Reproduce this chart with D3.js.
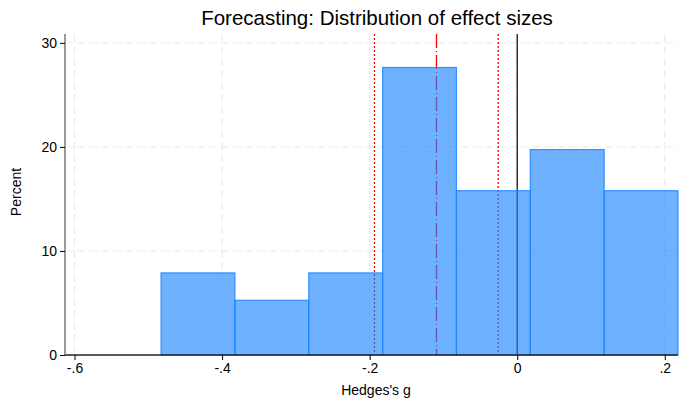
<!DOCTYPE html>
<html>
<head>
<meta charset="utf-8">
<script src="https://cdn.jsdelivr.net/npm/d3@7"></script>
<style>
body { margin: 0; background: #fff; }
text { font-family: "Liberation Sans", Arial, sans-serif; fill: #000; }
</style>
</head>
<body>
<script>
// histogram bins (Hedges's g), percent of studies
var binStart = -0.4827, binWidth = 0.10009;
var percents = [7.89, 5.26, 7.89, 27.63, 15.79, 19.74, 15.79];
// reference lines: lower CI, mean, upper CI, zero
var ciLines = [-0.1935, -0.0258];
var meanLine = [-0.1094];
var zeroLine = [0];
var xTicks = [-0.6, -0.4, -0.2, 0, 0.2];
var xTickLabels = ["-.6", "-.4", "-.2", "0", ".2"];
var yTicks = [0, 10, 20, 30];

var W = 679, H = 400;
var margin = {left: 65, right: 1, top: 34, bottom: 45};

var bins = percents.map(function(p, i){
	return {x0: binStart + i*binWidth, x1: binStart + (i+1)*binWidth, pct: p};
});

var x = d3.scaleLinear().domain([-0.6129, bins[bins.length-1].x1]).range([margin.left, W - margin.right]);
var y = d3.scaleLinear().domain([0, 30.85]).range([H - margin.bottom, margin.top]);

var svg = d3.select("body").append("svg").attr("width", W).attr("height", H);

// grid
svg.append("g").selectAll("line").data(yTicks.slice(1)).enter().append("line")
	.attr("x1", margin.left).attr("x2", W - margin.right)
	.attr("y1", function(d){ return y(d); }).attr("y2", function(d){ return y(d); })
	.attr("stroke", "#eaeaea").attr("stroke-dasharray", "8,4");
svg.append("g").selectAll("line").data(xTicks).enter().append("line")
	.attr("y1", margin.top).attr("y2", y(0))
	.attr("x1", function(d){ return x(d); }).attr("x2", function(d){ return x(d); })
	.attr("stroke", "#eaeaea").attr("stroke-dasharray", "8,4");

// reference lines (drawn under the translucent bars)
svg.append("g").selectAll("line").data(ciLines).enter().append("line")
	.attr("x1", function(d){ return x(d); }).attr("x2", function(d){ return x(d); })
	.attr("y1", margin.top).attr("y2", y(0))
	.attr("stroke", "#ff0000").attr("stroke-width", 1.3).attr("stroke-dasharray", "2,2");
svg.append("g").selectAll("line").data(meanLine).enter().append("line")
	.attr("x1", function(d){ return x(d); }).attr("x2", function(d){ return x(d); })
	.attr("y1", margin.top).attr("y2", y(0))
	.attr("stroke", "#ff0000").attr("stroke-width", 1.3).attr("stroke-dasharray", "14,3,1,3");
svg.append("g").selectAll("line").data(zeroLine).enter().append("line")
	.attr("x1", function(d){ return x(d); }).attr("x2", function(d){ return x(d); })
	.attr("y1", margin.top).attr("y2", y(0))
	.attr("stroke", "#000").attr("stroke-width", 1.2);

// bars
svg.append("g").selectAll("rect").data(bins).enter().append("rect")
	.attr("x", function(d){ return x(d.x0); })
	.attr("width", function(d){ return x(d.x1) - x(d.x0); })
	.attr("y", function(d){ return y(d.pct); })
	.attr("height", function(d){ return y(0) - y(d.pct); })
	.attr("fill", "rgba(26,133,255,0.64)")
	.attr("stroke", "rgba(26,133,255,0.85)").attr("stroke-width", 1.2);

// axes
var yAxis = svg.append("g").attr("transform", "translate(" + margin.left + ",0)")
	.call(d3.axisLeft(y).tickValues(yTicks).tickSize(5).tickPadding(3).tickFormat(d3.format("d")));
yAxis.select(".domain").attr("d", "M0," + margin.top + "V" + y(0)).attr("stroke", "#777").attr("stroke-width", 1.5);
yAxis.selectAll(".tick line").attr("stroke", "#000");
yAxis.selectAll("text").style("font-size", "14px");

var xAxis = svg.append("g").attr("transform", "translate(0," + y(0) + ")")
	.call(d3.axisBottom(x).tickValues(xTicks).tickSize(5).tickPadding(3)
		.tickFormat(function(d, i){ return xTickLabels[i]; }));
xAxis.select(".domain").attr("d", "M" + margin.left + ",0H" + (W - margin.right)).attr("stroke", "#222").attr("stroke-width", 1.3);
xAxis.selectAll(".tick line").attr("stroke", "#000");
xAxis.selectAll("text").style("font-size", "14px");

// titles
svg.append("text").attr("x", 377).attr("y", 25).attr("text-anchor", "middle")
	.style("font-size", "20.5px").text("Forecasting: Distribution of effect sizes");
svg.append("text").attr("x", 376).attr("y", 395).attr("text-anchor", "middle")
	.style("font-size", "14px").text("Hedges's g");
svg.append("text").attr("transform", "translate(21,192) rotate(-90)")
	.attr("text-anchor", "middle").style("font-size", "14px").text("Percent");
</script>
</body>
</html>
